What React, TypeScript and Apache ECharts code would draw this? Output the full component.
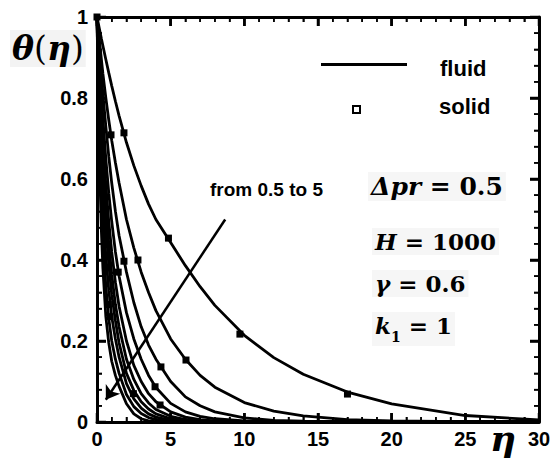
import React, { useEffect, useRef } from "react";
import * as echarts from "echarts";

const etaGrid = [0, 0.1, 0.2, 0.3, 0.4, 0.6, 0.8, 1, 1.25, 1.5, 2, 2.5, 3, 3.5, 4, 5, 6, 7, 8, 10, 12, 14, 17, 20, 25, 30];

const theta05 = [1, 0.982, 0.964, 0.946, 0.929, 0.895, 0.862, 0.83, 0.792, 0.756, 0.69, 0.633, 0.583, 0.538, 0.5, 0.443, 0.386, 0.334, 0.288, 0.214, 0.159, 0.118, 0.074, 0.045, 0.016, 0.005];
const theta10 = [1, 0.965, 0.93, 0.895, 0.86, 0.8, 0.745, 0.695, 0.64, 0.59, 0.5, 0.43, 0.37, 0.32, 0.275, 0.205, 0.155, 0.115, 0.086, 0.048, 0.027, 0.015, 0.006, 0.0025, 0.0008, 0.0002];
const theta15 = [1, 0.95, 0.9, 0.855, 0.81, 0.73, 0.655, 0.59, 0.52, 0.46, 0.37, 0.295, 0.235, 0.19, 0.155, 0.1, 0.062, 0.04, 0.025, 0.01, 0.004, 0.002, 0.0005, 0, 0, 0];
const theta20 = [1, 0.93, 0.865, 0.805, 0.75, 0.65, 0.565, 0.495, 0.42, 0.36, 0.27, 0.205, 0.155, 0.115, 0.085, 0.046, 0.025, 0.014, 0.008, 0.0025, 0.0008, 0.0002, 0, 0, 0, 0];
const theta25 = [1, 0.91, 0.83, 0.76, 0.695, 0.585, 0.495, 0.42, 0.345, 0.285, 0.2, 0.14, 0.1, 0.07, 0.05, 0.025, 0.012, 0.006, 0.003, 0.0008, 0, 0, 0, 0, 0, 0];
const theta30 = [1, 0.89, 0.8, 0.72, 0.65, 0.53, 0.44, 0.365, 0.29, 0.235, 0.155, 0.105, 0.07, 0.047, 0.031, 0.014, 0.006, 0.0025, 0.001, 0, 0, 0, 0, 0, 0, 0];
const theta35 = [1, 0.87, 0.76, 0.675, 0.6, 0.48, 0.39, 0.315, 0.25, 0.195, 0.12, 0.078, 0.05, 0.032, 0.02, 0.008, 0.003, 0.001, 0, 0, 0, 0, 0, 0, 0, 0];
const theta40 = [1, 0.84, 0.71, 0.61, 0.53, 0.41, 0.325, 0.26, 0.205, 0.16, 0.095, 0.057, 0.034, 0.02, 0.012, 0.004, 0.0015, 0, 0, 0, 0, 0, 0, 0, 0, 0];
const theta45 = [1, 0.8, 0.655, 0.545, 0.46, 0.335, 0.255, 0.2, 0.155, 0.12, 0.068, 0.038, 0.021, 0.011, 0.006, 0.002, 0, 0, 0, 0, 0, 0, 0, 0, 0, 0];
const theta50 = [1, 0.77, 0.6, 0.47, 0.38, 0.26, 0.195, 0.15, 0.115, 0.088, 0.045, 0.02, 0.008, 0.003, 0.001, 0, 0, 0, 0, 0, 0, 0, 0, 0, 0, 0];

const fluidCurves = [theta05, theta10, theta15, theta20, theta25, theta30, theta35, theta40, theta45, theta50];

const solidEta = [0, 1.83, 4.85, 9.7, 17, 0.95, 2.78, 6.04, 1.83, 4.34, 1.44, 3.94, 4.28, 0.77, 0.88, 2.47];
const solidTheta = [1, 0.714, 0.454, 0.217, 0.069, 0.709, 0.4, 0.153, 0.397, 0.136, 0.37, 0.087, 0.042, 0.29, 0.26, 0.07];

const arrowFrom = [8.7, 0.5];
const arrowTo = [0.6, 0.055];

const xMin = 0, xMax = 30, xStep = 5;
const yMin = 0, yMax = 1, yStep = 0.2;
const minorSplits = 5;

const SANS = "Liberation Sans";
const SERIF = "DejaVu Serif";

function makeAxis(min: number, max: number, interval: number, position: string, showLabels: boolean, margin: number) {
  return {
    type: "value",
    min,
    max,
    interval,
    position,
    axisLine: { show: true, onZero: false, lineStyle: { color: "#000", width: 3 } },
    axisTick: { show: true, inside: true, length: 9, lineStyle: { color: "#000", width: 2.5 } },
    minorTick: { show: true, splitNumber: minorSplits, length: 5, lineStyle: { color: "#000", width: 1.5 } },
    splitLine: { show: true, lineStyle: { color: "#fff", opacity: 0, width: 0 } },
    axisLabel: showLabels
      ? { show: true, color: "#000", fontSize: 20, fontWeight: "bold", fontFamily: SANS, margin }
      : { show: false },
  };
}

function mathText(left: number, top: number, italicPart: string, rest: string, size: number) {
  return {
    type: "text",
    left,
    top,
    z: 50,
    style: {
      text: `{i|${italicPart}}{u|${rest}}`,
      backgroundColor: "#f6f6f6",
      padding: [2, 3, 2, 3],
      rich: {
        i: { fontFamily: SERIF, fontStyle: "italic", fontWeight: "bold", fontSize: size, fill: "#000" },
        u: { fontFamily: SERIF, fontWeight: "bold", fontSize: size, fill: "#000" },
      },
    },
  };
}

export default function App() {
  const ref = useRef<HTMLDivElement>(null);
  useEffect(() => {
    if (!ref.current) return;
    const chart = echarts.init(ref.current, null, { renderer: "svg" });

    const lineSeries = fluidCurves.map((c) => ({
      name: "fluid",
      type: "line",
      data: etaGrid.map((x, i) => [x, c[i]]),
      symbol: "none",
      smooth: false,
      lineStyle: { color: "#000", width: 2.8 },
      itemStyle: { color: "#000" },
      z: 3,
    }));

    const textGraphics: any[] = [
      { type: "text", left: 440, top: 57, z: 50, style: { text: "fluid", fontSize: 22, fontWeight: "bold", fontFamily: SANS, fill: "#000" } },
      { type: "text", left: 439, top: 95, z: 50, style: { text: "solid", fontSize: 22, fontWeight: "bold", fontFamily: SANS, fill: "#000" } },
      {
        type: "text",
        left: 10,
        top: 30,
        z: 50,
        style: {
          text: "{i|θ}{u|(}{i|η}{u|)}",
          backgroundColor: "#f3f3f3",
          padding: [2, 2, 2, 2],
          rich: {
            i: { fontFamily: SERIF, fontStyle: "italic", fontWeight: "bold", fontSize: 33, fill: "#000" },
            u: { fontFamily: SERIF, fontWeight: "normal", fontSize: 33, fill: "#000" },
          },
        },
      },
      { type: "text", left: 490, top: 420, z: 50, style: { text: "η", font: `italic bold 36px "${SERIF}"`, fill: "#000" } },
      { type: "text", left: 210, top: 180, z: 50, style: { text: "from 0.5 to 5", font: `bold 19px "${SANS}"`, fill: "#000" } },
      mathText(368, 172, "Δpr", " = 0.5", 25),
      mathText(372, 228, "H", " = 1000", 23),
      mathText(372, 270, "γ", " = 0.6", 23),
      {
        type: "text",
        left: 372,
        top: 312,
        z: 50,
        style: {
          text: "{i|k}{s|1}{u| = 1}",
          backgroundColor: "#f6f6f6",
          padding: [2, 3, 2, 3],
          rich: {
            i: { fontFamily: SERIF, fontStyle: "italic", fontWeight: "bold", fontSize: 23, fill: "#000", lineHeight: 30, verticalAlign: "top" },
            s: { fontFamily: SERIF, fontWeight: "bold", fontSize: 14, fill: "#000", lineHeight: 30, verticalAlign: "bottom" },
            u: { fontFamily: SERIF, fontWeight: "bold", fontSize: 23, fill: "#000", lineHeight: 30, verticalAlign: "top" },
          },
        },
      },
    ];

    const option: any = {
      animation: false,
      backgroundColor: "#fff",
      grid: { left: 97, right: 18, top: 17, bottom: 38 },
      xAxis: [makeAxis(xMin, xMax, xStep, "bottom", true, 7), makeAxis(xMin, xMax, xStep, "top", false, 0)],
      yAxis: [makeAxis(yMin, yMax, yStep, "left", true, 9), makeAxis(yMin, yMax, yStep, "right", false, 0)],
      legend: [
        {
          left: 316,
          top: 58,
          itemWidth: 86,
          itemHeight: 3,
          data: [{ name: "fluid", icon: "rect", itemStyle: { color: "#000" } }],
          formatter: () => "",
          selectedMode: false,
        },
        {
          left: 347,
          top: 100,
          itemWidth: 7,
          itemHeight: 7,
          data: [{ name: "solid", icon: "rect", itemStyle: { color: "#fff", borderColor: "#000", borderWidth: 2 } }],
          formatter: () => "",
          selectedMode: false,
        },
      ],
      series: [
        ...lineSeries,
        {
          name: "solid",
          type: "scatter",
          data: solidEta.map((x, i) => [x, solidTheta[i]]),
          symbol: "rect",
          symbolSize: 7,
          itemStyle: { color: "#000", opacity: 1 },
          z: 4,
          markLine: {
            silent: true,
            symbol: ["none", "arrow"],
            symbolSize: 13,
            label: { show: false },
            lineStyle: { color: "#000", width: 2.5, type: "solid", opacity: 1 },
            data: [[{ coord: arrowFrom }, { coord: arrowTo }]],
          },
        },
      ],
      graphic: textGraphics,
    };
    chart.setOption(option);

    // Tick marks on all four sides, positioned through the chart's own scales.
    const tickGraphics: any[] = [];
    const pushTick = (x1: number, y1: number, x2: number, y2: number, w: number) => {
      if (![x1, y1, x2, y2].every((n) => Number.isFinite(n))) return;
      tickGraphics.push({ type: "line", z: 60, silent: true, shape: { x1, y1, x2, y2 }, style: { stroke: "#000", lineWidth: w } });
    };
    const nx = Math.round((xMax - xMin) / xStep) * minorSplits;
    for (let i = 0; i <= nx; i++) {
      const v = xMin + (i * xStep) / minorSplits;
      const major = i % minorSplits === 0;
      const len = major ? 9 : 5;
      const w = major ? 2.5 : 1.5;
      const pb = chart.convertToPixel({ gridIndex: 0 }, [v, yMin]) as number[];
      const pt = chart.convertToPixel({ gridIndex: 0 }, [v, yMax]) as number[];
      if (pb) pushTick(pb[0], pb[1], pb[0], pb[1] - len, w);
      if (pt) pushTick(pt[0], pt[1], pt[0], pt[1] + len, w);
    }
    const ny = Math.round((yMax - yMin) / yStep) * minorSplits;
    for (let i = 0; i <= ny; i++) {
      const v = yMin + (i * yStep) / minorSplits;
      const major = i % minorSplits === 0;
      const len = major ? 9 : 5;
      const w = major ? 2.5 : 1.5;
      const pl = chart.convertToPixel({ gridIndex: 0 }, [xMin, v]) as number[];
      const pr = chart.convertToPixel({ gridIndex: 0 }, [xMax, v]) as number[];
      if (pl) pushTick(pl[0], pl[1], pl[0] + len, pl[1], w);
      if (pr) pushTick(pr[0], pr[1], pr[0] - len, pr[1], w);
    }
    chart.setOption({ graphic: [...textGraphics, ...tickGraphics] });

    return () => chart.dispose();
  }, []);

  return <div ref={ref} style={{ position: "fixed", left: 0, top: 0, width: 557, height: 460 }} />;
}
